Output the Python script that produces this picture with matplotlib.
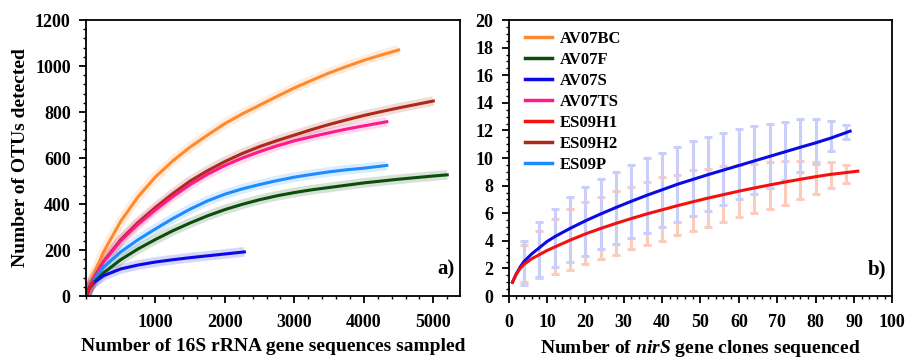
import numpy as np
import matplotlib
matplotlib.use("Agg")
from matplotlib import pyplot as plt
from matplotlib.lines import Line2D
from matplotlib.ticker import MultipleLocator

plt.rcParams['font.family'] = ['Liberation Serif', 'DejaVu Serif']
plt.rcParams['font.weight'] = 'bold'
plt.rcParams['mathtext.fontset'] = 'custom'
plt.rcParams['mathtext.rm'] = 'Liberation Serif:bold'
plt.rcParams['mathtext.bf'] = 'Liberation Serif:bold'
plt.rcParams['mathtext.it'] = 'Liberation Serif:italic:bold'

# panel a) 16S rRNA rarefaction curves
bc_x = [1, 50, 100, 250, 500, 750, 1000, 1250, 1500, 1750, 2000, 2250, 2500, 2750, 3000, 3250, 3500, 3750, 4000, 4250, 4500]
bc_y = [1, 45, 85, 190, 325, 432, 518, 588, 648, 700, 750, 792, 830, 868, 905, 938, 970, 998, 1025, 1048, 1070]
f_x = [1, 50, 100, 250, 500, 750, 1000, 1250, 1500, 1750, 2000, 2250, 2500, 2750, 3000, 3250, 3500, 3750, 4000, 4250, 4500, 4750, 5000, 5200]
f_y = [1, 35, 55, 100, 158, 205, 246, 284, 318, 349, 376, 399, 419, 436, 450, 462, 472, 482, 492, 500, 508, 515, 522, 527]
s_x = [1, 50, 100, 250, 500, 750, 1000, 1250, 1500, 1750, 2000, 2280]
s_y = [1, 35, 55, 88, 118, 135, 148, 158, 167, 175, 183, 192]
ts_x = [1, 50, 100, 250, 500, 750, 1000, 1250, 1500, 1750, 2000, 2250, 2500, 2750, 3000, 3250, 3500, 3750, 4000, 4330]
ts_y = [1, 40, 70, 148, 240, 312, 375, 433, 485, 530, 568, 600, 628, 653, 675, 693, 710, 726, 740, 758]
h1_x = [1, 50, 100]
h1_y = [1, 35, 60]
h2_x = [1, 50, 100, 250, 500, 750, 1000, 1250, 1500, 1750, 2000, 2250, 2500, 2750, 3000, 3250, 3500, 3750, 4000, 4250, 4500, 4750, 5000]
h2_y = [1, 40, 72, 150, 245, 320, 385, 445, 500, 545, 585, 620, 650, 676, 700, 724, 746, 766, 785, 802, 818, 833, 848]
p_x = [1, 50, 100, 250, 500, 750, 1000, 1250, 1500, 1750, 2000, 2250, 2500, 2750, 3000, 3250, 3500, 3750, 4000, 4330]
p_y = [1, 38, 65, 125, 192, 245, 292, 337, 378, 414, 443, 466, 485, 502, 517, 529, 540, 549, 556, 568]

# panel b) nirS rarefaction curves
b_s_x = [1, 2, 3, 4, 6, 8, 10, 12, 16, 20, 24, 28, 32, 36, 40, 44, 48, 52, 56, 60, 64, 68, 72, 76, 80, 84, 89]
b_s_y = [1.0, 1.6, 2.1, 2.5, 3.05, 3.5, 3.95, 4.3, 4.9, 5.45, 5.95, 6.42, 6.87, 7.3, 7.7, 8.1, 8.45, 8.8,
         9.13, 9.46, 9.79, 10.12, 10.45, 10.78, 11.1, 11.45, 11.95]
b_h1_x = [1, 2, 3, 4, 6, 8, 10, 12, 16, 20, 24, 28, 32, 36, 40, 44, 48, 52, 56, 60, 64, 68, 72, 76, 80, 84, 88, 91]
b_h1_y = [1.0, 1.6, 2.0, 2.3, 2.7, 3.0, 3.3, 3.55, 4.05, 4.5, 4.9, 5.27, 5.62, 5.95, 6.25, 6.55, 6.83, 7.1,
          7.35, 7.6, 7.83, 8.05, 8.26, 8.46, 8.65, 8.82, 8.95, 9.05]
eb_x = [4, 8, 12, 16, 20, 24, 28, 32, 36, 40, 44, 48, 52, 56, 60, 64, 68, 72, 76, 80, 84, 88]
s_lo = [0.8, 1.4, 2.1, 2.5, 2.9, 3.4, 3.8, 4.2, 4.6, 5.0, 5.4, 5.8, 6.2, 6.6, 7.0, 7.4, 7.8, 8.4, 9.0, 9.6, 10.5, 11.4]
s_hi = [4.0, 5.4, 6.3, 7.2, 7.9, 8.5, 9.0, 9.5, 10.0, 10.4, 10.8, 11.2, 11.5, 11.8, 12.1, 12.3, 12.5, 12.6, 12.8, 12.8, 12.7, 12.4]
h1_lo = [1.0, 1.3, 1.6, 1.9, 2.3, 2.7, 3.0, 3.4, 3.7, 4.0, 4.4, 4.7, 5.0, 5.4, 5.7, 6.0, 6.3, 6.6, 7.0, 7.4, 7.8, 8.2]
h1_hi = [3.7, 4.7, 5.6, 6.3, 6.8, 7.2, 7.6, 7.9, 8.3, 8.6, 8.8, 9.1, 9.2, 9.4, 9.5, 9.6, 9.7, 9.8, 9.8, 9.7, 9.7, 9.5]

names = ['AV07BC', 'AV07F', 'AV07S', 'AV07TS', 'ES09H1', 'ES09H2', 'ES09P']
colors = ['#ff8a2e', '#0c4d0c', '#0a0ae6', '#ff1a8c', '#f51010', '#ad2a1a', '#1e8cff']

fig = plt.figure(figsize=(9.05, 3.58), dpi=100)
ax1 = fig.add_axes([0.095, 0.173, 0.413, 0.771])
ax2 = fig.add_axes([0.562, 0.173, 0.424, 0.771])

# a)
curves = [(bc_x, bc_y), (f_x, f_y), (s_x, s_y), (ts_x, ts_y), (h1_x, h1_y), (h2_x, h2_y), (p_x, p_y)]
for (x, y), c in zip(curves, colors):
    ax1.plot(x, y, color=c, lw=7, alpha=0.16, solid_capstyle='butt')
order = [0, 5, 3, 6, 1, 2, 4]
for i in order:
    x, y = curves[i]
    ax1.plot(x, y, color=colors[i], lw=2.2)

ax1.set_xlim(0, 5380)
ax1.set_ylim(0, 1200)
ax1.set_xticks([1000, 2000, 3000, 4000, 5000])
ax1.xaxis.set_minor_locator(MultipleLocator(200))
ax1.yaxis.set_major_locator(MultipleLocator(200))
ax1.yaxis.set_minor_locator(MultipleLocator(40))
ax1.set_ylabel('Number of OTUs detected', fontsize=14, fontweight='bold', labelpad=4)
ax1.set_xlabel('Number of 16S rRNA gene sequences sampled', fontsize=14, fontweight='bold', labelpad=5)
ax1.text(0.985, 0.06, 'a)', transform=ax1.transAxes, ha='right', va='bottom', fontsize=15, fontweight='bold')

# b)
s_mid = (np.array(s_lo) + np.array(s_hi)) / 2
h1_mid = (np.array(h1_lo) + np.array(h1_hi)) / 2
ax2.errorbar(eb_x, h1_mid, yerr=[h1_mid - np.array(h1_lo), np.array(h1_hi) - h1_mid],
             fmt='none', ecolor='#fbcbbb', elinewidth=2.2, capsize=3.2, capthick=2.2)
ax2.errorbar(eb_x, s_mid, yerr=[s_mid - np.array(s_lo), np.array(s_hi) - s_mid],
             fmt='none', ecolor='#c9cefa', elinewidth=2.2, capsize=3.2, capthick=2.2)
ax2.plot(b_s_x, b_s_y, color=colors[2], lw=2.2)
ax2.plot(b_h1_x, b_h1_y, color=colors[4], lw=2.2)

ax2.set_xlim(0, 100)
ax2.set_ylim(0, 20)
ax2.xaxis.set_major_locator(MultipleLocator(10))
ax2.xaxis.set_minor_locator(MultipleLocator(2))
ax2.yaxis.set_major_locator(MultipleLocator(2))
ax2.yaxis.set_minor_locator(MultipleLocator(0.5))
ax2.set_xlabel('Number of $\\mathit{nirS}$ gene clones sequenced', fontsize=14, fontweight='bold', labelpad=5)
ax2.text(0.985, 0.06, 'b)', transform=ax2.transAxes, ha='right', va='bottom', fontsize=15, fontweight='bold')

handles = [Line2D([0], [0], color=c, lw=2.5) for c in colors]
ax2.legend(handles, names, loc='upper left', frameon=False,
           handlelength=1.6, handletextpad=0.5, labelspacing=0.3, borderaxespad=0.0,
           prop={'weight': 'bold', 'size': 12}, bbox_to_anchor=(0.025, 0.985))

for ax in (ax1, ax2):
    for sp in ax.spines.values():
        sp.set_linewidth(1.3)
    ax.tick_params(which='major', direction='out', length=5, width=1.3, labelsize=13)
    ax.tick_params(which='minor', direction='out', length=2.5, width=1)
    for lab in ax.get_xticklabels() + ax.get_yticklabels():
        lab.set_fontweight('bold')
    ax.tick_params(axis='x', pad=8)
    ax.tick_params(axis='y', pad=6)

plt.savefig('out.png', dpi=100)
